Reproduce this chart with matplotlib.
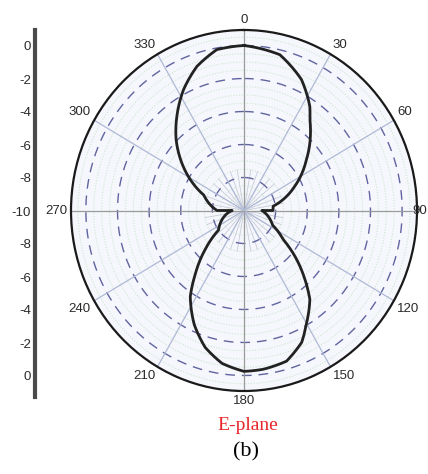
import numpy as np
import matplotlib
matplotlib.use("Agg")
import matplotlib.pyplot as plt

# Padrão de radiação (plano E), ângulo em graus e ganho em dB
angulos = [0, 13.5, 24.6, 33.4, 37.1, 52.0, 65.4, 81.9, 90, 90, 116.1,
           125.3, 130.7, 137.3, 142.3, 149.7, 155.5, 163.6, 172.8, 180,
           188.5, 196.5, 204.5, 213.1, 218.5, 226.1, 233.7, 270, 270, 290.2,
           298.9, 315.0, 323.4, 332.4, 341.2, 350.0, 360]
ganho_db = [0.0, -0.29, -1.27, -2.44, -3.09, -4.99, -6.47, -8.14, -8.17, -8.87, -7.99,
            -6.97, -5.76, -4.32, -3.19, -2.14, -1.21, -0.48, -0.30, -0.25,
            -0.63, -1.35, -2.41, -3.78, -5.04, -6.59, -8.0, -9.25, -8.30, -7.29,
            -6.12, -3.93, -2.88, -1.74, -0.77, -0.10, 0.0]

rotulos_ang = [0, 30, 60, 90, 120, 150, 180, 210, 240, 270, 300, 330]
aneis_tracejados = [-8, -6, -4, -2, 0]
escala_ticks = [-10, -8, -6, -4, -2, 0, 2, 4, 6, 8, 10]

r_min, r_max = -10, 0.94
W, H = 428, 474

fig = plt.figure(figsize=(W / 100, H / 100), dpi=100)
fig.patch.set_facecolor("white")

# eixo polar (um pouco achatado na horizontal como no original)
ax = fig.add_axes([(244 - 173) / W, (H - 391) / H, 346 / W, 361 / H], projection="polar")
ax.set_aspect("auto")
ax.set_theta_zero_location("N")
ax.set_theta_direction(-1)
ax.set_ylim(r_min, r_max)
ax.set_facecolor("#f5f7fc")
ax.grid(False)
ax.set_xticks([])
ax.set_yticks([])
ax.spines["polar"].set_color("#1a1a1a")
ax.spines["polar"].set_linewidth(1.6)

t = np.linspace(0, 2 * np.pi, 721)
# círculos verdes pontilhados
for r in np.arange(-9.5, 0.6, 0.5):
    if abs(r - round(r / 2) * 2) < 1e-6:
        continue
    ax.plot(t, np.full_like(t, r), color="#cfe6cf", lw=0.8, ls=(0, (1, 1.5)), zorder=1)
# círculos tracejados azuis
for r in aneis_tracejados:
    ax.plot(t, np.full_like(t, r), color="#61649f", lw=1.0, ls=(0, (7, 5)), zorder=2)
# raios menores perto do centro
for a in range(0, 360, 10):
    ax.plot([np.radians(a)] * 2, [r_min, -7.5], color="#c8ccd8", lw=0.6, zorder=1)
# raios a cada 30 graus
for a in rotulos_ang:
    cor = "#9a9a9a" if a % 90 == 0 else "#b0b9d6"
    ax.plot([np.radians(a)] * 2, [r_min, r_max], color=cor, lw=0.9, zorder=2)

# curva (segmentos desenhados como arcos em coordenadas polares)
linha, = ax.plot(np.radians(angulos), ganho_db, color="#222222", lw=2.0, zorder=5)
linha.get_path()._interpolation_steps = 40

# rótulos angulares
for a in rotulos_ang:
    if a == 90:
        # no original fica colado na borda direita
        fig.text(427 / W, 1 - 211 / H, "90", ha="right", va="center", fontsize=9.5,
                 color="#2a2a2a", family="Liberation Sans")
        continue
    th = np.radians(a)
    s = np.sin(th)
    c = np.cos(th)
    ha = "center" if abs(s) < 0.1 else ("left" if s > 0 else "right")
    va = "center" if abs(c) < 0.1 else ("bottom" if c > 0 else "top")
    ax.text(th, r_max + 0.25, str(a), ha=ha, va=va, fontsize=9.5,
            color="#2a2a2a", family="Liberation Sans", clip_on=False)

# escala vertical à esquerda
ax2 = fig.add_axes([35 / W, (H - 397) / H, 0.001, 367 / H])
ax2.set_ylim(-(397 - 211) / 16.5, (211 - 30) / 16.5)
ax2.set_xlim(0, 1)
for lado in ["top", "right", "bottom"]:
    ax2.spines[lado].set_visible(False)
ax2.spines["left"].set_color("#4a4a4a")
ax2.spines["left"].set_linewidth(3)
ax2.set_xticks([])
ax2.set_yticks(escala_ticks)
ax2.set_yticklabels([str(abs(v) - 10) for v in escala_ticks], fontsize=9.5,
                    color="#2a2a2a", family="Liberation Sans")
ax2.tick_params(axis="y", length=0, pad=3)
ax2.patch.set_alpha(0)

fig.text(248 / W, 1 - 425 / H, "E-plane", color="#e8262a", fontsize=14,
         family="Liberation Serif", ha="center", va="center")
fig.text(246 / W, 1 - 452 / H, "(b)", color="black", fontsize=16,
         family="Liberation Serif", ha="center", va="center")

fig.savefig("out.png", dpi=100)
